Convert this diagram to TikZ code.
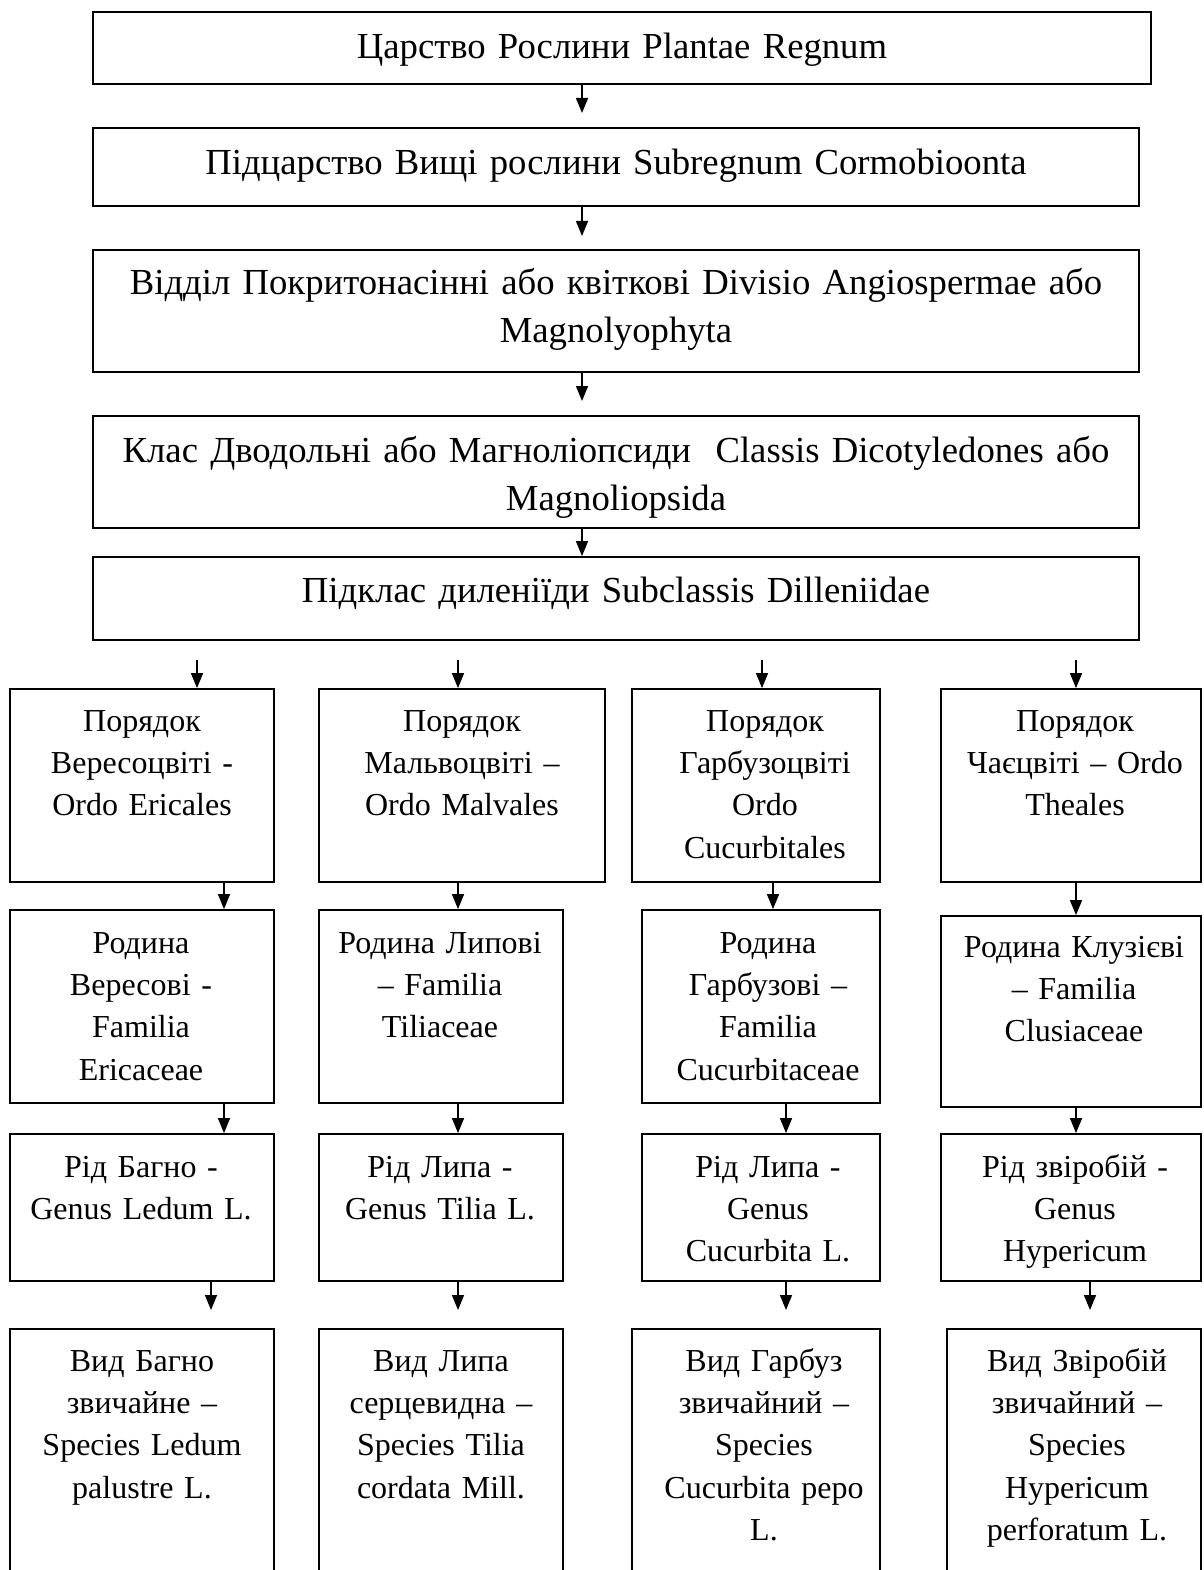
\documentclass[tikz,border=0pt]{standalone}
\usepackage{fontspec}
\setmainfont{Liberation Serif}
\usetikzlibrary{arrows.meta}
\newcommand\bx[5]{\node[box, minimum width={(#4-#2)*1pt}, minimum height={(#5-#3)*1pt}] (#1) at ({(#2+#4)/2},{(#3+#5)/2}) {};}
\newcommand\lb[4]{\node[lbl] (#1) at (#2,{#3-29.6}) {\strut #4};}
\newcommand\lbt[4]{\node[lblt] (#1) at (#2,{#3-33.6}) {\strut #4};}
\begin{document}
\begin{tikzpicture}[x=1pt,y=-1pt,
  box/.style={draw, line width=1.8pt, inner sep=0pt},
  lbl/.style={anchor=north, align=center, text width=1100pt, inner sep=0pt, font=\fontsize{32}{42.3}\selectfont},
  lblt/.style={anchor=north, align=center, text width=1150pt, inner sep=0pt, font=\fontsize{36.7}{48}\selectfont},
  arr/.style={line width=1.5pt, -{Triangle[length=15pt,width=12pt]}}]
\useasboundingbox (0,0) rectangle (1203,1570);
% top chain
\bx{k1}{93}{12}{1151}{84}
\bx{k2}{93}{128}{1139}{206}
\bx{k3}{93}{250}{1139}{372}
\bx{k4}{93}{416}{1139}{528}
\bx{k5}{93}{557}{1139}{640}
% columns
\bx{a1}{10}{689}{274}{882}
\bx{b1}{319}{689}{605}{882}
\bx{c1}{632}{689}{880}{882}
\bx{d1}{941}{689}{1201}{882}
\bx{a2}{10}{910}{274}{1103}
\bx{b2}{319}{910}{563}{1103}
\bx{c2}{642}{910}{880}{1103}
\bx{d2}{941}{916}{1201}{1107}
\bx{a3}{10}{1134}{274}{1281}
\bx{b3}{319}{1134}{563}{1281}
\bx{c3}{642}{1134}{880}{1281}
\bx{d3}{941}{1134}{1201}{1281}
\bx{a4}{10}{1329}{274}{1585}
\bx{b4}{319}{1329}{563}{1585}
\bx{c4}{632}{1329}{880}{1585}
\bx{d4}{947}{1329}{1201}{1585}
% labels
\lbt{tk1}{622}{58}{Царство Рослини Plantae Regnum}
\lbt{tk2}{616}{174}{Підцарство Вищі рослини Subregnum Cormobioonta}
\lbt{tk3}{616}{294}{Відділ Покритонасінні або квіткові Divisio Angiospermae або\\Magnolyophyta}
\lbt{tk4}{616}{462}{Клас Дводольні або Магноліопсиди\ \ Classis Dicotyledones або\\Magnoliopsida}
\lbt{tk5}{616}{602}{Підклас диленіїди Subclassis Dilleniidae}
\lb{ta1}{142}{731}{Порядок\\Вересоцвіті -\\Ordo Ericales}
\lb{tb1}{462}{731}{Порядок\\Мальвоцвіті –\\Ordo Malvales}
\lb{tc1}{765}{731}{Порядок\\Гарбузоцвіті\\Ordo\\Cucurbitales}
\lb{td1}{1075}{731}{Порядок\\Чаєцвіті – Ordo\\Theales}
\lb{ta2}{141}{953}{Родина\\Вересові -\\Familia\\Ericaceae}
\lb{tb2}{440}{953}{Родина Липові\\– Familia\\Tiliaceae}
\lb{tc2}{768}{953}{Родина\\Гарбузові –\\Familia\\Cucurbitaceae}
\lb{td2}{1074}{957}{Родина Клузієві\\– Familia\\Clusiaceae}
\lb{ta3}{141}{1177}{Рід Багно -\\Genus Ledum L.}
\lb{tb3}{440}{1177}{Рід Липа -\\Genus Tilia L.}
\lb{tc3}{768}{1177}{Рід Липа -\\Genus\\Cucurbita L.}
\lb{td3}{1075}{1177}{Рід звіробій -\\Genus\\Hypericum}
\lb{ta4}{142}{1371}{Вид Багно\\звичайне –\\Species Ledum\\palustre L.}
\lb{tb4}{441}{1371}{Вид Липа\\серцевидна –\\Species Tilia\\cordata Mill.}
\lb{tc4}{764}{1371}{Вид Гарбуз\\звичайний –\\Species\\Cucurbita pepo\\L.}
\lb{td4}{1077}{1371}{Вид Звіробій\\звичайний –\\Species\\Hypericum\\perforatum L.}
% connectors in the top chain
\coordinate (m1) at (582,113);
\coordinate (m2) at (582,236);
\coordinate (m3) at (582,401);
\coordinate (mx) at (582,0);
\draw[arr] (k1.south -| m1) -- (m1);
\draw[arr] (k2.south -| m2) -- (m2);
\draw[arr] (k3.south -| m3) -- (m3);
\draw[arr] (k4.south -| mx) -- (k5.north -| mx);
% row 1 arrows (free starts)
\coordinate (s1) at (197,660);
\coordinate (s2) at (458,660);
\coordinate (s3) at (762,660);
\coordinate (s4) at (1076,660);
\draw[arr] (s1) -- (a1.north -| s1);
\draw[arr] (s2) -- (b1.north -| s2);
\draw[arr] (s3) -- (c1.north -| s3);
\draw[arr] (s4) -- (d1.north -| s4);
% row 2 arrows
\coordinate (p1) at (224,0);
\coordinate (p2) at (458,0);
\coordinate (p3) at (773,0);
\coordinate (p4) at (1076,0);
\draw[arr] (a1.south -| p1) -- (a2.north -| p1);
\draw[arr] (b1.south -| p2) -- (b2.north -| p2);
\draw[arr] (c1.south -| p3) -- (c2.north -| p3);
\draw[arr] (d1.south -| p4) -- (d2.north -| p4);
% row 3 arrows
\coordinate (q1) at (224,0);
\coordinate (q2) at (458,0);
\coordinate (q3) at (786,0);
\coordinate (q4) at (1076,0);
\draw[arr] (a2.south -| q1) -- (a3.north -| q1);
\draw[arr] (b2.south -| q2) -- (b3.north -| q2);
\draw[arr] (c2.south -| q3) -- (c3.north -| q3);
\draw[arr] (d2.south -| q4) -- (d3.north -| q4);
% row 4 arrows (free ends)
\coordinate (e1) at (211,1310);
\coordinate (e2) at (458,1310);
\coordinate (e3) at (786,1310);
\coordinate (e4) at (1090,1310);
\draw[arr] (a3.south -| e1) -- (e1);
\draw[arr] (b3.south -| e2) -- (e2);
\draw[arr] (c3.south -| e3) -- (e3);
\draw[arr] (d3.south -| e4) -- (e4);
\end{tikzpicture}
\end{document}
